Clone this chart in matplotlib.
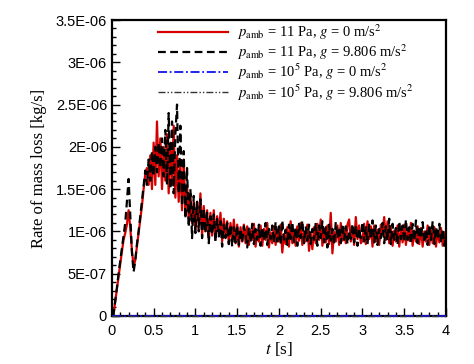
import numpy as np
import matplotlib.pyplot as plt
from matplotlib.ticker import MultipleLocator, FuncFormatter

plt.rcParams['mathtext.fontset'] = 'stix'

# sampling grid [s]
t = np.round(np.arange(201) * 0.02, 2)

# rate of mass loss, in 1e-6 kg/s
red_11pa_g0 = [
    0, 0.02, 0.17, 0.32, 0.48, 0.62, 0.76, 0.9, 0.98, 1.08,
    1.25, 1.05, 0.78, 0.58, 0.66, 0.82, 0.98, 1.14, 1.3, 1.5,
    1.68, 1.75, 1.55, 1.9, 1.5, 2.05, 1.55, 2.3, 1.65, 2.1,
    1.5, 2.0, 1.6, 2.15, 1.45, 2.05, 1.55, 2.25, 1.4, 1.9,
    1.35, 1.8, 1.25, 1.85, 1.2, 1.55, 1.15, 1.45, 1.1, 1.35,
    1.0, 1.35, 1.05, 1.45, 0.95, 1.3, 1.0, 1.25, 0.9, 1.22,
    0.95, 1.25, 0.9, 1.18, 0.97, 1.22, 0.88, 1.15, 0.95, 1.12,
    0.85, 1.1, 0.9, 1.14, 0.86, 1.08, 0.82, 1.05, 0.88, 1.08,
    0.86, 1.06, 0.84, 1.02, 0.9, 1.09, 0.82, 1.0, 0.88, 1.07,
    0.83, 1.03, 0.9, 1.1, 0.81, 0.99, 0.86, 1.06, 0.84, 1.02,
    0.88, 1.08, 0.75, 0.97, 0.85, 1.05, 0.82, 1.12, 0.86, 1.01,
    0.83, 1.06, 0.89, 1.1, 0.84, 1.0, 0.88, 1.08, 0.77, 0.98,
    0.79, 1.05, 0.86, 1.09, 0.9, 1.14, 0.83, 1.03, 0.87, 1.07,
    0.85, 1.22, 0.74, 1.0, 0.88, 1.07, 0.84, 1.1, 0.89, 1.03,
    0.86, 1.08, 1.14, 0.88, 1.05, 0.84, 1.17, 0.91, 1.07, 0.86,
    0.89, 1.09, 0.85, 1.12, 0.91, 1.06, 0.82, 1.07, 0.88, 1.02,
    0.84, 1.08, 0.97, 1.17, 0.9, 1.12, 0.86, 1.05, 0.83, 1.01,
    0.88, 1.07, 0.82, 1.02, 0.87, 1.08, 0.84, 1.03, 0.89, 1.1,
    0.83, 1.01, 0.88, 1.06, 0.85, 1.04, 0.82, 1.0, 0.88, 1.07,
    0.84, 1.02, 0.86, 1.05, 0.82, 1.01, 0.87, 1.04, 0.83, 0.99,
    0.88,
]

black_11pa_g = [
    0, 0.02, 0.17, 0.33, 0.5, 0.65, 0.8, 0.95, 1.1, 1.35,
    1.62, 1.2, 0.75, 0.52, 0.65, 0.85, 1.0, 1.18, 1.35, 1.55,
    1.72, 1.55, 1.85, 1.6, 1.95, 1.65, 2.0, 1.7, 2.05, 1.75,
    2.1, 1.65, 2.2, 1.55, 2.4, 1.5, 2.3, 1.45, 2.15, 2.5,
    1.45, 2.25, 1.3, 1.95, 1.15, 1.75, 1.05, 1.5, 0.92, 1.42,
    0.98, 1.35, 1.0, 1.38, 0.92, 1.28, 0.98, 1.22, 0.86, 1.18,
    0.96, 1.2, 0.88, 1.15, 0.94, 1.12, 0.82, 1.08, 0.92, 1.1,
    0.85, 1.08, 0.82, 1.05, 0.87, 1.07, 0.84, 1.03, 0.87, 1.06,
    0.97, 0.81, 1.05, 0.87, 1.09, 0.85, 1.03, 0.9, 1.08, 0.83,
    1.05, 0.89, 1.1, 0.84, 1.03, 0.91, 1.07, 0.86, 1.11, 0.88,
    1.06, 0.85, 1.13, 0.9, 1.02, 0.84, 1.08, 0.91, 1.11, 0.87,
    1.05, 0.83, 1.09, 0.92, 1.13, 0.86, 1.06, 0.89, 1.08, 0.85,
    1.03, 0.9, 1.1, 0.83, 1.07, 0.92, 1.12, 0.87, 1.05, 0.81,
    1.08, 0.89, 1.03, 0.84, 1.11, 0.92, 1.05, 0.86, 1.09, 0.9,
    1.06, 0.85, 1.01, 0.91, 1.09, 0.87, 1.07, 0.83, 1.03, 0.92,
    1.11, 0.88, 1.05, 0.85, 1.08, 0.91, 1.13, 0.87, 1.07, 0.84,
    1.03, 0.92, 1.1, 0.86, 1.06, 0.89, 1.15, 0.85, 1.09, 0.9,
    1.04, 0.84, 1.12, 0.91, 1.07, 0.87, 1.14, 0.9, 1.05, 0.85,
    1.09, 0.89, 1.13, 0.86, 1.06, 0.92, 1.11, 0.87, 1.03, 0.84,
    1.08, 0.9, 1.12, 0.85, 1.05, 0.91, 1.09, 0.87, 1.03, 0.83,
    0.95,
]

# ambient pressure 1e5 Pa: essentially zero over the whole run
t_atm = [0, 1, 2, 3, 4]
blue_1e5_g0 = [0, 0, 0, 0, 0]
black_1e5_g = [0, 0, 0, 0, 0]

assert len(red_11pa_g0) == len(t) == len(black_11pa_g)

labels = [
    r'$p_{\rm amb}$ = 11 Pa, $g$ = 0 m/s$^2$',
    r'$p_{\rm amb}$ = 11 Pa, $g$ = 9.806 m/s$^2$',
    r'$p_{\rm amb}$ = 10$^5$ Pa, $g$ = 0 m/s$^2$',
    r'$p_{\rm amb}$ = 10$^5$ Pa, $g$ = 9.806 m/s$^2$',
]

fig = plt.figure(figsize=(4.74, 3.64), dpi=100)
ax = fig.add_axes([0.236, 0.132, 0.705, 0.813])

scale = 1e-6
ax.plot(t, np.array(red_11pa_g0) * scale, color='#d40000', lw=1.6, label=labels[0])
ax.plot(t, np.array(black_11pa_g) * scale, color='black', lw=1.6,
        linestyle=(0, (3.5, 2)), label=labels[1])
ax.plot(t_atm, np.array(blue_1e5_g0) * scale, color='#1010ee', lw=1.3,
        linestyle=(0, (5, 1.5, 1, 1.5)), label=labels[2], clip_on=False, zorder=3)
ax.plot(t_atm, np.array(black_1e5_g) * scale, color='#333333', lw=1.0,
        linestyle=(0, (5, 1.5, 1, 1.5, 1, 1.5)), label=labels[3], clip_on=False, zorder=3)

ax.set_xlim(0, 4)
ax.set_ylim(0, 3.5e-6)
ax.xaxis.set_major_locator(MultipleLocator(0.5))
ax.xaxis.set_minor_locator(MultipleLocator(0.1))
ax.yaxis.set_major_locator(MultipleLocator(5e-7))
ax.yaxis.set_minor_locator(MultipleLocator(1e-7))


def sci_fmt(v, pos):
    if abs(v) < 1e-12:
        return '0'
    s = '%.1E' % v
    mant, exp = s.split('E')
    if mant.endswith('.0'):
        mant = mant[:-2]
    return mant + 'E' + exp


ax.yaxis.set_major_formatter(FuncFormatter(sci_fmt))
ax.xaxis.set_major_formatter(FuncFormatter(lambda v, p: '%g' % v))

ax.tick_params(which='both', direction='in', top=False, right=False,
               labelsize=10.5, width=1.0)
ax.tick_params(which='major', length=6)
ax.tick_params(which='minor', length=3)
ax.tick_params(axis='x', pad=6)
for lab in ax.get_xticklabels() + ax.get_yticklabels():
    lab.set_fontfamily('Liberation Sans')
for sp in ax.spines.values():
    sp.set_linewidth(1.6)

ax.set_xlabel(r'$t$ [s]', family='Liberation Serif', fontsize=12.5, labelpad=1)
ax.set_ylabel('Rate of mass loss [kg/s]', family='Liberation Serif', fontsize=12, labelpad=6)

leg = ax.legend(loc='upper left', bbox_to_anchor=(0.1, 1.035), frameon=False,
                handlelength=4.8, handletextpad=0.6, labelspacing=0.0,
                prop={'family': 'Liberation Serif', 'size': 10.5})

fig.savefig('out.png', dpi=100)
